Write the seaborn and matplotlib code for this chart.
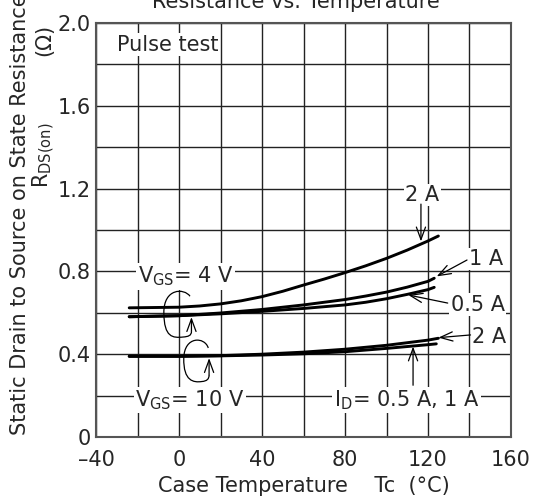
import numpy as np
import pandas as pd
import matplotlib
matplotlib.use("Agg")
import matplotlib.pyplot as plt
from matplotlib.path import Path
from matplotlib.patches import PathPatch
import seaborn as sns

# ---------------- data ----------------
temp_4v_2a = [-24, 0, 10, 20, 30, 40, 50, 60, 70, 80, 90, 100, 110, 120, 125]
r_4v_2a = [0.624, 0.627, 0.633, 0.643, 0.658, 0.678, 0.704, 0.734, 0.763,
           0.794, 0.827, 0.863, 0.903, 0.947, 0.971]

temp_4v_1a = [-24, 0, 20, 40, 60, 80, 90, 100, 110, 120, 123]
r_4v_1a = [0.581, 0.586, 0.599, 0.616, 0.638, 0.664, 0.681, 0.700, 0.724, 0.752, 0.767]

temp_4v_05a = [-24, 0, 20, 40, 60, 80, 90, 100, 110, 120, 123]
r_4v_05a = [0.581, 0.586, 0.595, 0.607, 0.621, 0.638, 0.651, 0.668, 0.689, 0.712, 0.723]

temp_10v_2a = [-24, 0, 20, 40, 60, 80, 100, 120, 125]
r_10v_2a = [0.390, 0.390, 0.393, 0.400, 0.410, 0.424, 0.443, 0.468, 0.477]

temp_10v_1a = [-24, 0, 20, 40, 60, 80, 100, 120, 124]
r_10v_1a = [0.390, 0.390, 0.392, 0.396, 0.402, 0.412, 0.428, 0.446, 0.450]

series_names = ["4V 2A", "4V 1A", "4V 0.5A", "10V 2A", "10V 0.5A/1A"]
x_ticks = [-40, 0, 40, 80, 120, 160]
x_tick_labels = ["\u201340", "0", "40", "80", "120", "160"]
y_ticks = [0, 0.4, 0.8, 1.2, 1.6, 2.0]
y_tick_labels = ["0", "0.4", "0.8", "1.2", "1.6", "2.0"]

frames = []
for name, t, r in zip(series_names,
                      [temp_4v_2a, temp_4v_1a, temp_4v_05a, temp_10v_2a, temp_10v_1a],
                      [r_4v_2a, r_4v_1a, r_4v_05a, r_10v_2a, r_10v_1a]):
    frames.append(pd.DataFrame({"Tc": t, "R": r, "series": name}))
df = pd.concat(frames, ignore_index=True)

# ---------------- style ----------------
sns.set_style("white")
plt.rcParams["font.family"] = ["DejaVu Sans"]
plt.rcParams["mathtext.default"] = "regular"

FS = 15
fig = plt.figure(figsize=(5.33, 4.97), dpi=100)
ax = fig.add_axes([96 / 533, 1 - 437 / 497, 415 / 533, 414 / 497])

sns.lineplot(data=df, x="Tc", y="R", hue="series", units="series",
             estimator=None, sort=False, legend=False,
             palette={n: "black" for n in series_names},
             linewidth=2.1, ax=ax)

ax.set_xlim(-40, 160)
ax.set_ylim(0, 2.0)
ax.set_xticks(x_ticks)
ax.set_xticklabels(x_tick_labels, fontsize=FS)
ax.set_xticks(np.arange(-40, 161, 20), minor=True)
ax.set_yticks(y_ticks)
ax.set_yticklabels(y_tick_labels, fontsize=FS)
ax.set_yticks(np.arange(0, 2.01, 0.2), minor=True)
ax.tick_params(which="both", length=0)
ax.tick_params(axis="x", pad=9)
ax.tick_params(axis="y", pad=4)
ax.grid(True, which="both", color="#222222", linewidth=1.0)
ax.set_axisbelow(True)
for s in ax.spines.values():
    s.set_color("#555555")
    s.set_linewidth(1.5)
ax.set_xlabel("Case Temperature    Tc  (\u00b0C)", fontsize=FS, labelpad=5)
ax.set_ylabel("")

# title (partly off-canvas, as in the reference)
fig.text(296 / 533, 1 - 8 / 497, "Resistance vs. Temperature", fontsize=FS,
         ha="center", va="baseline")

# y label, two lines
fig.text(20 / 533, 1 - 435 / 497, "Static Drain to Source on State Resistance",
         fontsize=FS, rotation=90, ha="left", va="center", rotation_mode="anchor")
fig.text(44 / 533, 1 - 188 / 497, r"$\mathregular{R_{DS(on)}}$",
         fontsize=FS, rotation=90, ha="left", va="center", rotation_mode="anchor")
fig.text(44 / 533, 1 - 56 / 497, "(\u03a9)",
         fontsize=FS, rotation=90, ha="left", va="center", rotation_mode="anchor")

box = dict(facecolor="white", edgecolor="none", pad=1.0)
arw = dict(arrowstyle="->,head_length=0.6,head_width=0.22", color="black",
           linewidth=0.9, shrinkA=0, shrinkB=0, mutation_scale=15)


def label(x, y, s, ha="center"):
    ax.text(x, y, s, fontsize=FS, ha=ha, va="center", bbox=box, zorder=5)


def arrow(tail, tip):
    ax.annotate("", xy=tip, xytext=tail, arrowprops=arw, zorder=6)


label(-29.9, 1.894, "Pulse test", ha="left")
label(117.3, 1.169, "2 A")
arrow((116.6, 1.125), (116.6, 0.945))
label(148.2, 0.860, "1 A")
arrow((138.8, 0.855), (124.2, 0.776))
label(143.9, 0.638, "0.5 A")
arrow((129.5, 0.647), (110.5, 0.686))
label(149.6, 0.485, "2 A")
arrow((140.5, 0.493), (125.0, 0.480))
arrow((112.8, 0.250), (112.8, 0.437))
label(109.6, 0.179, r"$\mathregular{I_{D}}$= 0.5 A, 1 A")
label(5.1, 0.179, r"$\mathregular{V_{GS}}$= 10 V")
label(3.1, 0.776, r"$\mathregular{V_{GS}}$= 4 V")

# loop marks grouping curves
up_verts = [(5.3, 0.68), (2.5, 0.72), (-7.4, 0.72), (-7.3, 0.60),
            (-7.2, 0.48), (-3.0, 0.478), (2.0, 0.483),
            (4.5, 0.485), (6.0, 0.49), (6.0, 0.51)]
codes = [Path.MOVETO] + [Path.CURVE4] * 9
ax.add_patch(PathPatch(Path(up_verts, codes), fill=False, lw=0.9,
                       edgecolor="black", zorder=6))
arrow((6.0, 0.51), (6.0, 0.579))

lo_verts = [(14.1, 0.43), (12.5, 0.485), (2.5, 0.49), (2.3, 0.38),
            (2.1, 0.27), (7.0, 0.262), (11.0, 0.268),
            (13.5, 0.27), (14.5, 0.28), (14.5, 0.30)]
ax.add_patch(PathPatch(Path(lo_verts, codes), fill=False, lw=0.9,
                       edgecolor="black", zorder=6))
arrow((14.5, 0.30), (14.5, 0.381))

fig.savefig("out.png", dpi=100)
